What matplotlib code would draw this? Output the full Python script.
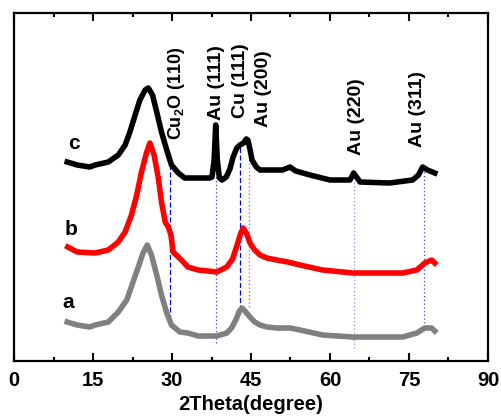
import matplotlib
matplotlib.use("Agg")
import matplotlib.pyplot as plt

plt.rcParams['font.family'] = ['Liberation Sans', 'DejaVu Sans']
plt.rcParams['font.weight'] = 'bold'
plt.rcParams['mathtext.fontset'] = 'custom'
plt.rcParams['mathtext.rm'] = 'Liberation Sans:bold'
plt.rcParams['mathtext.bf'] = 'Liberation Sans:bold'
plt.rcParams['mathtext.it'] = 'Liberation Sans:bold'

# XRD patterns (2theta in degrees, intensity in arbitrary offset units)
theta_a = [10.1, 12, 14.4, 15.4, 17.9, 19.8, 21.4, 22.6, 23.6, 24.5, 25.3, 26.1,
           27.1, 28.0, 29.0, 29.9, 31.5, 33, 35, 38.5, 40.4, 41.3, 42.2, 42.8,
           43.3, 44.0, 44.8, 45.7, 46.7, 48, 49.9, 52.4, 54.3, 58.6, 64.3,
           70, 73.8, 76.5, 78, 79.3, 79.9]
inten_a = [39, 36, 34, 36, 39, 49, 61, 79, 94, 108, 116, 106,
           86, 66, 48, 36, 29, 28, 25, 25, 28, 33, 42, 50,
           53, 49, 44, 39, 36, 34, 33, 33, 31, 26, 24,
           24, 24, 28, 33, 33, 30]

theta_b = [10.2, 12, 15.4, 17.9, 19.8, 21.1, 22.3, 23.3, 24.2, 25.2, 25.8, 26.6,
           27.4, 28.0, 28.7, 29.3, 29.8, 30.2, 31.8, 33, 35, 38.5, 40.4, 41.5,
           42.3, 43.0, 43.5, 44.2, 44.8, 45.7, 46.7, 48, 49.9, 52, 54.3,
           58.6, 64.3, 70, 73.8, 76.5, 78, 79.3, 79.9]
inten_b = [114, 109, 108, 111, 119, 129, 146, 166, 189, 209, 218, 206,
           183, 159, 139, 134, 126, 109, 101, 94, 91, 89, 94, 102,
           115, 127, 133, 127, 118, 111, 106, 103, 101, 99, 96,
           91, 88, 88, 88, 91, 98, 101, 98]

theta_c = [10.1, 12, 14.4, 15.4, 17.9, 19.8, 21.1, 22.0, 23.0, 23.9, 24.9, 25.5,
           26.3, 27.1, 28.0, 29.0, 29.9, 31.2, 32.4, 35.3, 37.2, 37.6, 38.0,
           38.3, 38.6, 39.0, 39.5, 40.3, 41.0, 41.6, 42.3, 42.9, 43.6, 44.1,
           44.4, 44.8, 45.2, 46.0, 46.7, 48.6, 51, 52.4, 53.5, 56.2, 60, 63.8,
           64.5, 65.7, 71.3, 75.7, 76.8, 77.6, 78.5, 79.9]
inten_c = [199, 196, 194, 196, 199, 206, 216, 229, 246, 261, 271, 273,
           266, 249, 229, 211, 196, 188, 183, 183, 183, 184, 201,
           236, 201, 183, 181, 184, 192, 204, 213, 216, 218, 222,
           221, 212, 201, 194, 191, 191, 191, 194, 190, 186, 181, 181,
           188, 179, 178, 181, 186, 194, 191, 188]

# Reference reflections: label, position, line extent, style, colour
ref_labels = [r'Cu$_\mathbf{2}$O (110)', 'Au (111)', 'Cu (111)', 'Au (200)', 'Au (220)', 'Au (311)']
ref_pos = [29.6, 38.3, 42.9, 44.6, 64.5, 77.8]
ref_top = [208, 191, 214, 211, 181, 196]
ref_bottom = [34, 18, 51, 54, 13, 38]
ref_style = [(0, (4, 2)), (0, (1, 2)), (0, (4, 2)), (0, (1, 2)), (0, (1, 2)), (0, (1, 2))]
ref_color = ['#0000ee', '#3a3aff', '#0000ee', '#6a6aff', '#8a8aff', '#4040ff']
label_x = [30.9, 38.5, 43.1, 47.4, 65.1, 76.7]
label_y = [221, 241, 243, 234, 206, 214]
label_size = [13, 14, 14, 14, 14, 14]

fig = plt.figure(figsize=(5.01, 4.19), dpi=100)
ax = fig.add_axes([0.028, 0.1384, 0.946, 0.8306])

for x, y0, y1, ls, c in zip(ref_pos, ref_bottom, ref_top, ref_style, ref_color):
    ax.plot([x, x], [y0, y1], color=c, lw=0.9, linestyle=ls, zorder=1)

ax.plot(theta_a, inten_a, color='#808080', lw=4, solid_joinstyle='round', zorder=2)
ax.plot(theta_b, inten_b, color='#ff0000', lw=4, solid_joinstyle='round', zorder=2)
ax.plot(theta_c, inten_c, color='#000000', lw=4, solid_joinstyle='round', zorder=3)

for t, x, y, fs in zip(ref_labels, label_x, label_y, label_size):
    ax.text(x, y, t, rotation=90, ha='center', va='bottom', fontsize=fs, fontweight='bold')

ax.text(11.4, 217, 'c', ha='center', va='center', fontsize=15, fontweight='bold')
ax.text(10.8, 132, 'b', ha='center', va='center', fontsize=15, fontweight='bold')
ax.text(10.2, 59, 'a', ha='center', va='center', fontsize=15, fontweight='bold')

ax.set_xlim(0, 90)
ax.set_ylim(0, 348)
ax.set_xticks([0, 15, 30, 45, 60, 75, 90])
ax.set_xticks([7.5, 22.5, 37.5, 52.5, 67.5, 82.5], minor=True)
ax.set_yticks([])
ax.tick_params(axis='x', which='both', direction='in', top=True, labelsize=14.5, pad=7)
ax.tick_params(axis='x', which='major', length=6, width=1.5)
ax.tick_params(axis='x', which='minor', length=3, width=1.5)
for lbl in ax.get_xticklabels():
    lbl.set_fontweight('bold')
for s in ax.spines.values():
    s.set_linewidth(1.6)
ax.set_xlabel('2Theta(degree)', fontsize=14.5, fontweight='bold', labelpad=4)

fig.savefig('out.png', dpi=100)
